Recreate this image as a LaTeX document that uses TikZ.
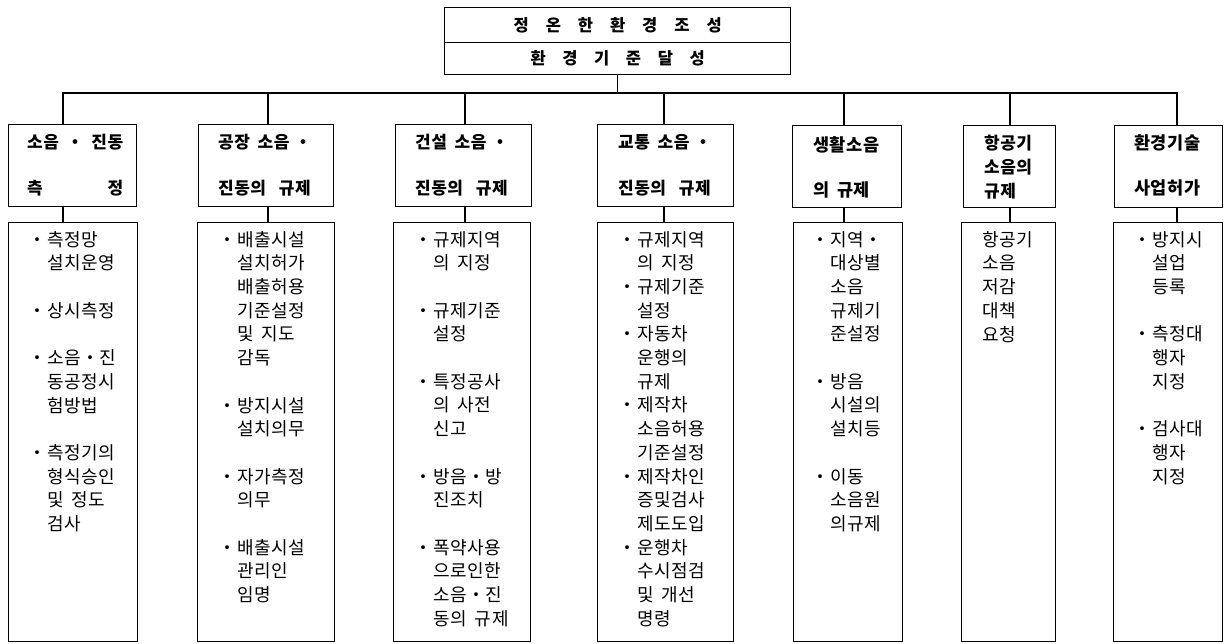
\documentclass[tikz,border=0pt]{standalone}
\usepackage{fontspec}
\setmainfont{Noto Sans CJK KR}
\newfontfamily\krsp{Noto Sans CJK KR}[LetterSpace=3]
\newcommand{\bl}{\llap{・\hspace{1pt}}}
\newcommand{\hsa}{\hspace{0.45em}}
\newcommand{\hsb}{\hspace{0.75em}}
\newcommand{\bs}{\hspace{0.45em}}
\tikzset{
  box/.style={draw, line width=1.4pt, inner sep=0pt, anchor=north west},
  topbox/.style={draw, line width=1.4pt, inner sep=0pt, anchor=north west, minimum width=346pt, font=\bfseries\fontsize{16.5}{18}\selectfont},
  headtext/.style={anchor=north west, inner sep=0pt, align=left, font=\krsp\bfseries\fontsize{17}{24}\selectfont},
  bodytext/.style={anchor=north west, inner sep=0pt, align=left, font=\krsp\fontsize{18}{23.7}\selectfont},
  wire/.style={line width=1.4pt}
}
\begin{document}
\begin{tikzpicture}[x=1pt,y=-1pt]
\useasboundingbox (0,0) rectangle (1224,643);
% top boxes
\node[topbox, minimum height=35pt] (t1) at (444,7) {\makebox[208pt]{정\hfill 온\hfill 한\hfill 환\hfill 경\hfill 조\hfill 성}};
\node[topbox, minimum height=32pt] (t2) at (444,42) {\makebox[174pt]{환\hfill 경\hfill 기\hfill 준\hfill 달\hfill 성}};
% bus coordinates
\coordinate (s1) at (63,93);
\coordinate (s2) at (268,93);
\coordinate (s3) at (465,93);
\coordinate (s4) at (664,93);
\coordinate (s5) at (844,93);
\coordinate (s6) at (1010,93);
\coordinate (s7) at (1177,93);
% header boxes
\node[box, minimum width=128pt, minimum height=82pt] (h1) at (8,124) {};
\node[box, minimum width=135pt, minimum height=82pt] (h2) at (198,124) {};
\node[box, minimum width=136pt, minimum height=82pt] (h3) at (395,124) {};
\node[box, minimum width=136pt, minimum height=82pt] (h4) at (597,124) {};
\node[box, minimum width=109pt, minimum height=82pt] (h5) at (792,125) {};
\node[box, minimum width=92pt, minimum height=82pt] (h6) at (963,125) {};
\node[box, minimum width=108pt, minimum height=82pt] (h7) at (1114,125) {};
% body boxes
\node[box, minimum width=129pt, minimum height=419pt] (b1) at (8,222) {};
\node[box, minimum width=137pt, minimum height=419pt] (b2) at (197,222) {};
\node[box, minimum width=137pt, minimum height=419pt] (b3) at (393,222) {};
\node[box, minimum width=136pt, minimum height=419pt] (b4) at (597,222) {};
\node[box, minimum width=109pt, minimum height=419pt] (b5) at (793,222) {};
\node[box, minimum width=94pt, minimum height=419pt] (b6) at (961,222) {};
\node[box, minimum width=109pt, minimum height=419pt] (b7) at (1113,222) {};
% connectors
\draw[wire] (t2.south) -- (t2.south |- s1);
\draw[wire] (s1 |- h1.north) -- (s1) -- (s7) -- (s7 |- h7.north);
\foreach \i in {2,...,6}{\draw[wire] (s\i) -- (s\i |- h\i.north);}
\foreach \i in {1,...,7}{\draw[wire] (h\i.south -| s\i) -- (b\i.north -| s\i);}
% header texts
\node[headtext] (ht1) at (27,134) {\makebox[96pt]{소음\hfill ・\hfill 진동}\\[22pt]\makebox[96pt]{측\hfill 정}};
\node[headtext] (ht2) at (218,134) {공장\hsa 소음\hspace{0.3em}・\\[22pt]진동의\hsb 규제};
\node[headtext] (ht3) at (415,134) {건설\hsa 소음\hspace{0.3em}・\\[22pt]진동의\hsb 규제};
\node[headtext] (ht4) at (618,134) {교통\hsa 소음\hspace{0.3em}・\\[22pt]진동의\hsb 규제};
\node[headtext, font=\krsp\bfseries\fontsize{17.5}{24}\selectfont] (ht5) at (813,136) {생활소음\\[21pt]의\hsa 규제};
\node[headtext] (ht6) at (984,135) {항공기\\소음의\\규제};
\node[headtext, font=\krsp\bfseries\fontsize{17.5}{24}\selectfont] (ht7) at (1134,134) {환경기술\\[21pt]사업허가};
% body texts
\node[bodytext] (bt1) at (47,231) {\bl 측정망\\설치운영\\[23.7pt]\bl 상시측정\\[23.7pt]\bl 소음・진\\동공정시\\험방법\\[23.7pt]\bl 측정기의\\형식승인\\및\bs 정도\\검사};
\node[bodytext] (bt2) at (237,231) {\bl 배출시설\\설치허가\\배출허용\\기준설정\\및\bs 지도\\감독\\[23.7pt]\bl 방지시설\\설치의무\\[23.7pt]\bl 자가측정\\의무\\[23.7pt]\bl 배출시설\\관리인\\임명};
\node[bodytext] (bt3) at (433,231) {\bl 규제지역\\의\bs 지정\\[23.7pt]\bl 규제기준\\설정\\[23.7pt]\bl 특정공사\\의\bs 사전\\신고\\[23.7pt]\bl 방음・방\\진조치\\[23.7pt]\bl 폭약사용\\으로인한\\소음・진\\동의\bs 규제};
\node[bodytext] (bt4) at (637,231) {\bl 규제지역\\의\bs 지정\\\bl 규제기준\\설정\\\bl 자동차\\운행의\\규제\\\bl 제작차\\소음허용\\기준설정\\\bl 제작차인\\증및검사\\제도도입\\\bl 운행차\\수시점검\\및\bs 개선\\명령};
\node[bodytext] (bt5) at (830,231) {\bl 지역・\\대상별\\소음\\규제기\\준설정\\[23.7pt]\bl 방음\\시설의\\설치등\\[23.7pt]\bl 이동\\소음원\\의규제};
\node[bodytext] (bt6) at (982,231) {항공기\\소음\\저감\\대책\\요청};
\node[bodytext] (bt7) at (1152,231) {\bl 방지시\\설업\\등록\\[23.7pt]\bl 측정대\\행자\\지정\\[23.7pt]\bl 검사대\\행자\\지정};
\end{tikzpicture}
\end{document}
